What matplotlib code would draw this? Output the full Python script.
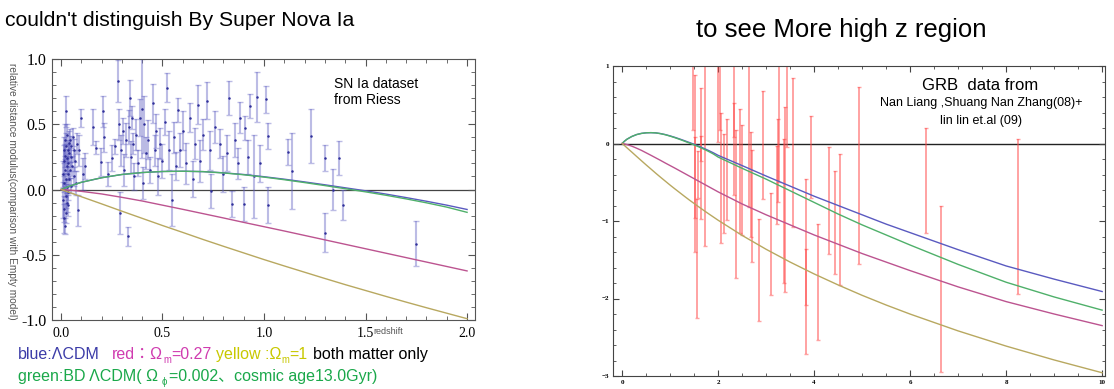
import numpy as np
import matplotlib
matplotlib.use("Agg")
import matplotlib.pyplot as plt
from matplotlib.ticker import MultipleLocator, FormatStrFormatter

# tick labels in serif, every other text names its own family
plt.rcParams['font.family'] = ['Liberation Serif', 'DejaVu Serif']

W, H = 1114, 389
SANS = ['Liberation Sans', 'Noto Sans CJK JP', 'DejaVu Sans']

# model curves: relative distance modulus vs redshift
z_grid = [0, 0.05, 0.1, 0.2, 0.3, 0.4, 0.5, 0.6, 0.7, 0.8, 0.9, 1.0, 1.1, 1.2, 1.3, 1.4,
          1.5, 1.6, 1.7, 1.8, 1.9, 2.0, 2.5, 3.0, 3.5, 4.0, 4.5, 5.0, 5.5, 6.0, 7.0, 8.0, 9.0, 10.0]
blue_lcdm = [0, 0.03, 0.055, 0.09, 0.115, 0.13, 0.138, 0.14, 0.137, 0.128, 0.115, 0.098, 0.079,
             0.058, 0.036, 0.013, -0.01, -0.035, -0.062, -0.09, -0.12, -0.153, -0.285, -0.42,
             -0.55, -0.68, -0.80, -0.92, -1.04, -1.15, -1.37, -1.58, -1.75, -1.91]
green_bd = [0, 0.03, 0.055, 0.09, 0.115, 0.13, 0.138, 0.14, 0.137, 0.127, 0.113, 0.095, 0.075,
            0.053, 0.03, 0.006, -0.018, -0.044, -0.072, -0.102, -0.135, -0.175, -0.32, -0.46,
            -0.61, -0.76, -0.91, -1.05, -1.18, -1.31, -1.56, -1.79, -1.98, -2.15]
red_open = [0, -0.006, -0.014, -0.034, -0.06, -0.088, -0.12, -0.152, -0.185, -0.218, -0.252,
            -0.285, -0.318, -0.352, -0.386, -0.42, -0.454, -0.488, -0.522, -0.556, -0.59, -0.624,
            -0.78, -0.92, -1.05, -1.18, -1.30, -1.42, -1.53, -1.64, -1.85, -2.04, -2.20, -2.35]
yellow_eds = [0, -0.027, -0.055, -0.110, -0.166, -0.221, -0.276, -0.329, -0.383, -0.435, -0.486,
              -0.537, -0.586, -0.634, -0.682, -0.729, -0.774, -0.819, -0.863, -0.906, -0.948,
              -0.990, -1.186, -1.365, -1.530, -1.683, -1.825, -1.959, -2.084, -2.201, -2.418,
              -2.614, -2.793, -2.958]

# SN Ia (Riess)
sn_z = [0.010, 0.012, 0.013, 0.014, 0.015, 0.016, 0.017, 0.018, 0.019, 0.020, 0.021, 0.022,
        0.023, 0.024, 0.025, 0.026, 0.027, 0.028, 0.029, 0.030, 0.031, 0.032, 0.033, 0.034,
        0.035, 0.036, 0.037, 0.038, 0.040, 0.042, 0.044, 0.046, 0.048, 0.050, 0.052, 0.055,
        0.058, 0.062, 0.066, 0.070, 0.075, 0.080, 0.085, 0.090, 0.100, 0.110, 0.120, 0.160,
        0.175, 0.195, 0.205, 0.210, 0.230, 0.250, 0.265, 0.280, 0.285, 0.290, 0.295, 0.305,
        0.310, 0.320, 0.330, 0.335, 0.340, 0.345, 0.350, 0.355, 0.360, 0.370, 0.380, 0.390,
        0.400, 0.405, 0.410, 0.420, 0.430, 0.440, 0.455, 0.465, 0.470, 0.480, 0.490, 0.500,
        0.510, 0.520, 0.530, 0.545, 0.555, 0.565, 0.577, 0.585, 0.600, 0.615, 0.635, 0.650,
        0.660, 0.675, 0.685, 0.700, 0.718, 0.734, 0.740, 0.760, 0.783, 0.800, 0.816, 0.830,
        0.840, 0.856, 0.870, 0.880, 0.900, 0.905, 0.920, 0.930, 0.950, 0.965, 0.980, 1.008,
        1.020, 1.020, 1.120, 1.140, 1.230, 1.300, 1.300, 1.340, 1.370, 1.390, 1.750]
sn_mu = [0.12, -0.08, 0.30, -0.22, 0.05, 0.22, -0.15, 0.38, 0.00, -0.28, 0.15, 0.26,
         -0.05, 0.60, 0.08, -0.18, 0.33, 0.18, -0.10, 0.02, 0.42, 0.24, -0.02, 0.12,
         0.30, -0.12, 0.20, 0.36, 0.08, 0.28, 0.15, 0.38, 0.03, 0.25, 0.33, 0.18,
         0.40, 0.10, 0.30, 0.22, 0.05, 0.35, -0.16, 0.30, 0.55, 0.12, 0.18, 0.48,
         0.32, 0.21, 0.60, 0.40, 0.12, 0.24, 0.33, 0.83, 0.50, -0.18, 0.30, 0.45,
         0.15, 0.38, -0.36, 0.48, 0.70, 0.25, 0.55, 0.35, 0.10, 0.42, 0.20, 0.55,
         0.62, 0.05, 0.50, 0.28, 0.38, 0.15, 0.66, 0.30, 0.45, 0.10, 0.35, 0.22,
         0.52, 0.78, 0.30, -0.08, 0.40, 0.18, 0.61, 0.30, 0.45, 0.20, 0.55, 0.08,
         0.35, 0.65, 0.22, 0.42, 0.68, 0.30, -0.01, 0.48, 0.35, 0.12, 0.28, 0.70,
         -0.11, 0.38, 0.20, 0.55, -0.11, 0.47, 0.25, 0.64, 0.10, 0.71, 0.20, 0.69,
         0.41, -0.12, 0.285, 0.14, 0.41, 0.24, -0.33, 0.00, 0.24, -0.115, -0.415]
sn_err = [0.10, 0.14, 0.10, 0.11, 0.07, 0.12, 0.10, 0.12, 0.06, 0.06, 0.08, 0.09,
          0.09, 0.12, 0.05, 0.08, 0.10, 0.06, 0.07, 0.05, 0.08, 0.07, 0.06, 0.05,
          0.08, 0.08, 0.06, 0.09, 0.06, 0.07, 0.06, 0.08, 0.06, 0.07, 0.08, 0.08,
          0.07, 0.07, 0.09, 0.08, 0.09, 0.08, 0.12, 0.12, 0.07, 0.12, 0.10, 0.14,
          0.05, 0.11, 0.12, 0.11, 0.09, 0.10, 0.06, 0.16, 0.12, 0.16, 0.12, 0.10,
          0.12, 0.13, 0.07, 0.13, 0.14, 0.12, 0.09, 0.08, 0.10, 0.12, 0.10, 0.14,
          0.38, 0.12, 0.22, 0.12, 0.15, 0.10, 0.15, 0.12, 0.13, 0.14, 0.12, 0.13,
          0.10, 0.11, 0.15, 0.20, 0.12, 0.11, 0.09, 0.13, 0.15, 0.16, 0.11, 0.14,
          0.12, 0.15, 0.16, 0.12, 0.14, 0.15, 0.13, 0.12, 0.11, 0.14, 0.14, 0.13,
          0.10, 0.13, 0.12, 0.12, 0.13, 0.09, 0.13, 0.09, 0.32, 0.19, 0.14, 0.10,
          0.10, 0.14, 0.10, 0.29, 0.21, 0.10, 0.15, 0.16, 0.13, 0.115, 0.175]

# GRB (Liang & Zhang 08 + Lin et al 09)
grb_z = [1.47, 1.51, 1.52, 1.56, 1.58, 1.64, 1.65, 1.73, 2.00, 2.03, 2.06, 2.12, 2.18, 2.33,
         2.34, 2.37, 2.45, 2.49, 2.65, 2.69, 2.70, 2.85, 2.93, 3.10, 3.22, 3.24, 3.26, 3.38,
         3.40, 3.44, 3.57, 3.83, 3.84, 3.94, 4.08, 4.31, 4.44, 4.53, 4.94, 6.33, 6.64, 8.24]
grb_mu = [1.20, -0.04, -0.66, -1.48, -0.40, -0.13, -0.06, 0.10, 1.05, 1.10, -0.45, -0.52,
          -0.34, 0.40, 0.30, -0.78, -0.35, -0.47, 0.30, -0.53, -0.81, -1.63, -0.02, -1.30,
          -0.535, -0.22, 0.60, -0.87, -0.72, 1.00, -0.12, -1.59, -1.72, -0.17, -1.79, -0.73,
          -1.02, -0.98, -0.41, -0.48, -1.875, -0.94]
grb_err = [1.03, 0.92, 0.74, 0.77, 0.30, 0.84, 0.16, 1.42, 1.03, 0.93, 0.84, 0.64, 0.65, 1.07,
           0.22, 0.96, 0.80, 0.71, 1.12, 0.68, 0.72, 0.66, 0.70, 0.66, 0.50, 0.54, 1.10, 0.93,
           1.19, 1.05, 0.96, 1.13, 0.36, 0.53, 0.75, 0.69, 0.67, 0.84, 1.14, 0.68, 1.075, 1.00]

c_blue = '#5a5ac0'
c_green = '#4fb06a'
c_red = '#bc5490'
c_yellow = '#b8a860'

z_arr = np.array(z_grid)
curves = [(blue_lcdm, c_blue), (green_bd, c_green), (red_open, c_red), (yellow_eds, c_yellow)]

fig = plt.figure(figsize=(W / 100, H / 100), dpi=100)

# ---------------- left: SN Ia ----------------
ax1 = fig.add_axes([52 / W, 1 - 320 / H, 423 / W, 261 / H])
ax1.errorbar(sn_z, sn_mu, yerr=sn_err, fmt='none', ecolor=(0.38, 0.38, 0.76, 0.42),
             elinewidth=1.5, capsize=2.5, capthick=1, zorder=2)
ax1.plot(sn_z, sn_mu, '.', ms=1.6, color='#30309a', zorder=3)
ax1.axhline(0, color='#444444', lw=0.9, zorder=1)
m = z_arr <= 2.0
for vals, col in curves:
    ax1.plot(z_arr[m], np.array(vals)[m], color=col, lw=1.0, zorder=4)
ax1.set_xlim(-0.044, 2.039)
ax1.set_ylim(-1, 1)
ax1.xaxis.set_major_locator(MultipleLocator(0.5))
ax1.xaxis.set_minor_locator(MultipleLocator(0.1))
ax1.yaxis.set_major_locator(MultipleLocator(0.5))
ax1.yaxis.set_minor_locator(MultipleLocator(0.1))
ax1.xaxis.set_major_formatter(FormatStrFormatter('%.1f'))
ax1.yaxis.set_major_formatter(FormatStrFormatter('%.1f'))
ax1.tick_params(which='both', direction='in', top=True, right=True, color='#555555')
ax1.tick_params(which='major', length=5)
ax1.tick_params(which='minor', length=3)
ax1.tick_params(axis='x', labelsize=10, pad=5)
ax1.tick_params(axis='y', labelsize=11.5, pad=4)
for sp in ax1.spines.values():
    sp.set_color('#555555')
ax1.text(334 / W, 1 - 92 / H, 'SN Ia dataset\nfrom Riess', transform=fig.transFigure,
         fontsize=10, family=SANS, va='center', ha='left', linespacing=1.2)
fig.text(388 / W, 1 - 332 / H, 'redshift', fontsize=6.5, family=SANS, color='#555555',
         ha='center', va='center')
fig.text(12 / W, 1 - 63 / H, 'relative distance modulus(comparison with Empty model)',
         rotation=270, fontsize=7.3, family=SANS, color='#555555', ha='center', va='top')

# ---------------- right: GRB ----------------
ax2 = fig.add_axes([613 / W, 1 - 376 / H, 492 / W, 310 / H])
ax2.errorbar(grb_z, grb_mu, yerr=grb_err, fmt='none', ecolor=(1.0, 0.28, 0.28, 0.5),
             elinewidth=1.4, capsize=1.5, capthick=1, zorder=2)
ax2.axhline(0, color='#222222', lw=1.0, zorder=1)
for vals, col in curves:
    ax2.plot(z_arr, vals, color=col, lw=1.0, zorder=4)
ax2.set_xlim(-0.19, 10.06)
ax2.set_ylim(-3, 1)
ax2.xaxis.set_major_locator(MultipleLocator(2))
ax2.xaxis.set_minor_locator(MultipleLocator(0.5))
ax2.yaxis.set_major_locator(MultipleLocator(1))
ax2.yaxis.set_minor_locator(MultipleLocator(0.2))
ax2.tick_params(which='both', direction='in', top=True, right=True, color='#444444',
                labelsize=5, pad=3)
ax2.tick_params(which='major', length=4)
ax2.tick_params(which='minor', length=2)
for lab in ax2.get_xticklabels() + ax2.get_yticklabels():
    lab.set_fontweight('bold')
for sp in ax2.spines.values():
    sp.set_color('#444444')
fig.text(980 / W, 1 - 85 / H, 'GRB  data from', fontsize=12, family=SANS,
         ha='center', va='center')
fig.text(981 / W, 1 - 103 / H, 'Nan Liang ,Shuang Nan Zhang(08)+', fontsize=9, family=SANS,
         ha='center', va='center')
fig.text(981 / W, 1 - 121 / H, 'lin lin et.al (09)', fontsize=9, family=SANS,
         ha='center', va='center')

# ---------------- titles ----------------
fig.text(5 / W, 1 - 20 / H, "couldn't distinguish By Super Nova Ia", fontsize=15.2,
         family=SANS, ha='left', va='center')
fig.text(841 / W, 1 - 30 / H, 'to see More high z region', fontsize=18.5, family=SANS,
         ha='center', va='center')

# ---------------- colored caption ----------------
renderer = fig.canvas.get_renderer()


def caption(x0, y0, pieces, size=11.5):
    # pieces: (text, color, subscript?, gap after in px)
    x = x0
    for txt, col, sub, gap in pieces:
        fs = size * 0.6 if sub else size
        dy = 4 if sub else 0
        t = fig.text(x / W, 1 - (y0 + dy) / H, txt, color=col, fontsize=fs, family=SANS,
                     ha='left', va='baseline')
        x += t.get_window_extent(renderer).width + gap


t_blue = '#3c3ca8'
t_mag = '#d03cb0'
t_yel = '#c8c800'
t_grn = '#1aa84a'
caption(18, 359, [('blue:ΛCDM', t_blue, False, 12),
                  ('red：Ω', t_mag, False, 0), ('m', t_mag, True, 0),
                  ('=0.27', t_mag, False, 5),
                  ('yellow :Ω', t_yel, False, 0), ('m', t_yel, True, 0), ('=1', t_yel, False, 5),
                  ('both matter only', 'black', False, 0)])
caption(18, 381, [('green:BD ΛCDM( Ω', t_grn, False, 3), ('ϕ', t_grn, True, 3),
                  ('=0.002、cosmic age13.0Gyr)', t_grn, False, 0)])

fig.savefig('out.png', dpi=100)
